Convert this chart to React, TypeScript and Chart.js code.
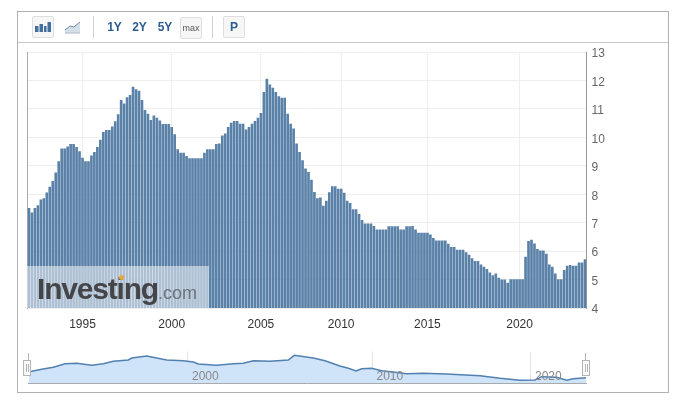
import React, { useEffect, useRef } from "react";
import { Chart, registerables } from "chart.js";

Chart.register(...registerables);

const barValues = [
  7.5, 7.35, 7.5, 7.6, 7.8, 7.85, 8.05, 8.25, 8.45, 8.75, 9.15, 9.6, 9.6, 9.67, 9.75, 9.75, 9.65, 9.5, 9.27, 9.15,
  9.15, 9.35, 9.47, 9.65, 9.9, 10.18, 10.25, 10.25, 10.37, 10.55, 10.8, 11.3, 11.18, 11.4, 11.48, 11.77, 11.68, 11.63, 11.3, 10.95,
  10.82, 10.6, 10.76, 10.68, 10.58, 10.46, 10.46, 10.46, 10.35, 10.1, 9.57, 9.45, 9.45, 9.33, 9.25, 9.25, 9.25, 9.25, 9.25, 9.45,
  9.57, 9.57, 9.57, 9.75, 9.77, 10.05, 10.12, 10.35, 10.5, 10.56, 10.56, 10.47, 10.47, 10.26, 10.35, 10.47, 10.56, 10.68, 10.84, 11.58,
  12.05, 11.85, 11.73, 11.58, 11.43, 11.38, 11.38, 10.82, 10.47, 10.3, 9.77, 9.47, 9.18, 8.89, 8.77, 8.5, 8.07, 7.85, 7.87, 7.58,
  7.76, 8.06, 8.27, 8.27, 8.18, 8.18, 8.04, 7.76, 7.68, 7.46, 7.46, 7.29, 7.08, 6.96, 6.96, 6.96, 6.87, 6.75, 6.75, 6.75,
  6.75, 6.86, 6.86, 6.86, 6.86, 6.75, 6.75, 6.86, 6.86, 6.87, 6.75, 6.63, 6.63, 6.63, 6.63, 6.57, 6.45, 6.36, 6.36, 6.36,
  6.36, 6.25, 6.13, 6.13, 6.04, 6.04, 6.04, 5.95, 5.86, 5.74, 5.64, 5.64, 5.52, 5.44, 5.36, 5.24, 5.14, 5.2, 5.05, 4.99,
  4.99, 4.88, 5, 5, 5, 5, 5, 5.79, 6.34, 6.39, 6.26, 6.06, 6.01, 6.01, 5.9, 5.52, 5.44, 5.2, 5, 5,
  5.32, 5.47, 5.5, 5.47, 5.47, 5.59, 5.59, 5.7,
];
const tickYears = ["1995", "2000", "2005", "2010", "2015", "2020"];
const tickBars = [18, 48, 78, 105, 134, 165];
const barLabels = barValues.map((_, i) => {
  const k = tickBars.indexOf(i);
  return k >= 0 ? tickYears[k] : "";
});

const navYears = [
  1990.7, 1990.9, 1991.47, 1992.15, 1992.83, 1993.51, 1994.38, 1995.06, 1995.64, 1996.52, 1996.72, 1997.59, 1998.17, 1998.76,
  1999.73, 2000.31, 2000.6, 2001.67, 2002.64, 2003.22, 2003.81, 2004.78, 2005.85, 2006.2, 2007.31, 2007.99, 2008.86, 2009.35,
  2009.8, 2010.13, 2010.71, 2011.3, 2012.07, 2012.75, 2013.72, 2015.08, 2017.03, 2018.19, 2019.36, 2020.23, 2020.62, 2021.5,
  2022.08, 2022.47, 2023.21,
];
const navValues = [
  7.2, 7.34, 7.91, 8.49, 9.51, 9.63, 9.06, 9.51, 10.2, 10.57, 11.14, 11.71, 11.14, 10.57,
  10.37, 10.0, 9.43, 9.06, 9.51, 9.63, 10.37, 10.2, 10.57, 11.91, 11.14, 10.37, 8.86, 8.2,
  7.43, 8.09, 8.2, 7.51, 7.06, 6.66, 6.77, 6.57, 6.09, 5.34, 4.77, 4.86, 5.8, 5.63,
  4.77, 5.23, 5.51,
];
const navTickPositions = [2000, 2010.76, 2020];
const navTickLabels = ["2000", "2010", "2020"];

const FONT = "'Liberation Sans', Arial, sans-serif";

const abs = (left: number, top: number, width: number, height: number, extra: React.CSSProperties = {}): React.CSSProperties => ({
  position: "absolute",
  left,
  top,
  width,
  height,
  boxSizing: "border-box",
  ...extra,
});

const buttonStyle = (left: number, top: number): React.CSSProperties =>
  abs(left, top, 22, 22, { background: "#f6f6f6", border: "1px solid #dedede", borderRadius: 2 });

const rangeText = (center: number, label: string) => (
  <div
    style={abs(center - 12, 20, 24, 14, {
      font: `bold 12px ${FONT}`,
      color: "#2b5c92",
      textAlign: "center",
      lineHeight: "14px",
    })}
  >
    {label}
  </div>
);

const Handle = ({ left }: { left: number }) => (
  <div style={abs(left, 360, 8, 16, { background: "#fafafa", border: "1px solid #b5b5b5" })}>
    <div style={abs(2, 3, 1, 8, { background: "#b5b5b5" })} />
    <div style={abs(4, 3, 1, 8, { background: "#b5b5b5" })} />
  </div>
);

export default function App() {
  const mainRef = useRef<HTMLCanvasElement>(null);
  const navRef = useRef<HTMLCanvasElement>(null);

  useEffect(() => {
    const main = new Chart(mainRef.current!, {
      type: "bar",
      data: {
        labels: barLabels,
        datasets: [{ data: barValues, backgroundColor: "#5a81a8", barThickness: 2, yAxisID: "y" }],
      },
      options: {
        animation: false,
        responsive: false,
        devicePixelRatio: 1,
        layout: { padding: { left: 27, top: 52, right: 0, bottom: 0 } },
        plugins: { legend: { display: false }, tooltip: { enabled: false } },
        scales: {
          x: {
            type: "category",
            grid: { color: "#eeeeee", drawTicks: false, offset: false },
            border: { display: false },
            afterBuildTicks: (s: any) => {
              s.ticks = tickBars.map((value) => ({ value }));
            },
            afterFit: (s: any) => {
              s.height = 97;
            },
            ticks: {
              autoSkip: false,
              maxRotation: 0,
              padding: 9,
              color: "#333333",
              font: { family: "'Liberation Sans'", size: 12 },
              callback(this: any, value: any) {
                return this.getLabelForValue(value);
              },
            },
          },
          y: {
            position: "right",
            min: 4,
            max: 13,
            grid: { color: "#eeeeee", drawTicks: false },
            border: { color: "#999999" },
            afterFit: (s: any) => {
              s.width = 92.5;
            },
            ticks: {
              stepSize: 1,
              padding: 5,
              labelOffset: 2,
              color: "#666666",
              font: { family: "'Liberation Sans'", size: 12 },
            },
          },
          yLeft: {
            position: "left",
            min: 4,
            max: 13,
            grid: { drawOnChartArea: false, drawTicks: false },
            border: { color: "#aaaaaa" },
            ticks: { display: false },
            afterFit: (s: any) => {
              s.width = 0.5;
            },
          },
        },
      },
    });

    const nav = new Chart(navRef.current!, {
      type: "line",
      data: {
        datasets: [
          {
            data: navYears.map((x, i) => ({ x, y: navValues[i] })),
            borderColor: "#5280b0",
            borderWidth: 1.5,
            backgroundColor: "#cfe3f9",
            fill: "origin",
            pointRadius: 0,
            tension: 0,
          },
        ],
      },
      options: {
        animation: false,
        responsive: false,
        devicePixelRatio: 1,
        layout: { padding: { left: 28.5, top: 11.5, right: 93, bottom: 0 } },
        plugins: { legend: { display: false }, tooltip: { enabled: false } },
        scales: {
          x: {
            type: "linear",
            min: 1990.7,
            max: 2023.21,
            grid: { color: "#e4e4e4", drawTicks: false },
            border: { color: "#aaaaaa" },
            afterBuildTicks: (s: any) => {
              s.ticks = navTickPositions.map((value) => ({ value }));
            },
            afterFit: (s: any) => {
              s.height = 17;
            },
            ticks: {
              z: 1,
              autoSkip: false,
              maxRotation: 0,
              align: "start",
              mirror: true,
              labelOffset: 4,
              padding: -1,
              color: "#888888",
              font: { family: "'Liberation Sans'", size: 12 },
              callback: (_v: any, i: number) => navTickLabels[i],
            },
          },
          y: { display: false, min: 4, max: 13 },
        },
      },
    });

    return () => {
      main.destroy();
      nav.destroy();
    };
  }, []);

  return (
    <div style={abs(0, 0, 679, 405, { background: "#ffffff", fontFamily: FONT, overflow: "hidden" })}>
      <div style={abs(17, 11, 652, 382, { border: "1px solid #b0b0b0" })} />
      <div style={abs(18, 42, 650, 1, { background: "#c8c8c8" })} />

      <canvas ref={mainRef} width={679} height={405} style={{ position: "absolute", left: 0, top: 0, width: 679, height: 405 }} />
      <canvas ref={navRef} width={679} height={60} style={{ position: "absolute", left: 0, top: 340, width: 679, height: 60 }} />

      <div style={buttonStyle(32, 16)} />
      <svg style={abs(32, 16, 22, 22)} viewBox="0 0 22 22">
        <rect x="3" y="10" width="3.5" height="6" fill="#44709f" />
        <rect x="7.5" y="8" width="3.5" height="8" fill="#44709f" />
        <rect x="12" y="10" width="2.5" height="6" fill="#44709f" />
        <rect x="15.5" y="6" width="3.5" height="10" fill="#44709f" />
      </svg>
      <svg style={abs(64, 19, 18, 16)} viewBox="0 0 18 16">
        <path d="M1 11 L6 7 L10 8 L16 3 L16 14 L1 14 Z" fill="#d5dfea" />
        <path d="M1 11 L6 7 L10 8 L16 3" fill="none" stroke="#6e8aa8" strokeWidth="1" />
        <path d="M1 14 L16 14" stroke="#aab8c6" strokeWidth="1" />
      </svg>
      <div style={abs(93, 16, 1, 22, { background: "#cfcfcf" })} />
      {rangeText(114.5, "1Y")}
      {rangeText(139.5, "2Y")}
      {rangeText(165, "5Y")}
      <div style={buttonStyle(180, 17)} />
      <div style={abs(180, 21, 22, 14, { font: `9px ${FONT}`, color: "#555555", textAlign: "center", lineHeight: "14px" })}>max</div>
      <div style={abs(212, 16, 1, 22, { background: "#cfcfcf" })} />
      <div style={buttonStyle(223, 16)} />
      <div style={abs(223, 20, 22, 14, { font: `bold 12px ${FONT}`, color: "#2b5c92", textAlign: "center", lineHeight: "14px" })}>P</div>

      <div style={abs(27, 266, 182, 42, { background: "rgba(255,255,255,0.5)" })} />
      <div
        style={{
          position: "absolute",
          left: 37,
          top: 271,
          whiteSpace: "nowrap",
          color: "#454548",
          font: `bold 30px/36px ${FONT}`,
          letterSpacing: "-1.2px",
        }}
      >
        Investing
        <span style={{ font: `18px/36px ${FONT}`, letterSpacing: 0, color: "#6d7278" }}>.com</span>
      </div>
      <div style={abs(119, 275, 5, 5, { background: "#e8a93c", borderRadius: 3 })} />

      <div style={abs(28, 353, 1, 8, { background: "#b5b5b5" })} />
      <div style={abs(585, 353, 1, 8, { background: "#b5b5b5" })} />
      <Handle left={23} />
      <Handle left={582} />
    </div>
  );
}
